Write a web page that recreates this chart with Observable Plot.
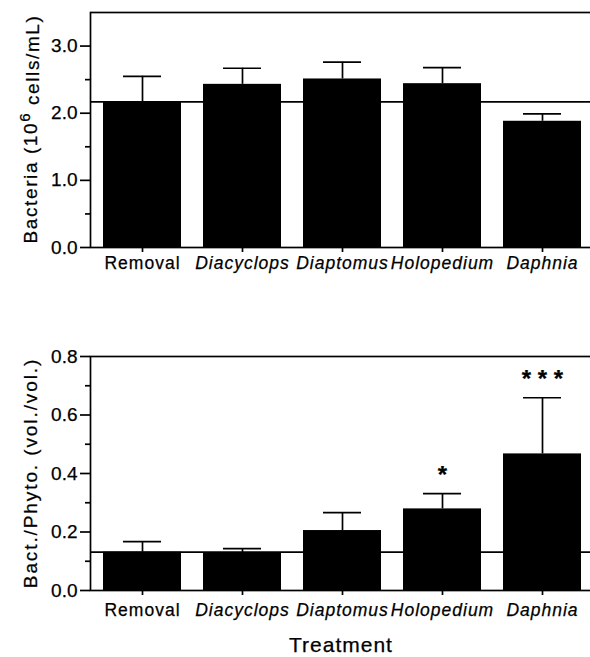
<!DOCTYPE html>
<html>
<head>
<meta charset="utf-8">
<script src="https://cdn.jsdelivr.net/npm/d3@7"></script>
<script src="https://cdn.jsdelivr.net/npm/@observablehq/plot@0.6"></script>
<style>
  html, body { margin: 0; padding: 0; background: #fff; overflow: hidden; }
  #chart { width: 590px; height: 657px; overflow: hidden; }
  #chart svg { display: block; max-width: none !important; }
  #chart text { stroke: black; stroke-width: 0.25px; }
</style>
</head>
<body>
<div id="chart"></div>
<script>
// ---- data ----
const treatments = ["Removal", "Diacyclops", "Diaptomus", "Holopedium", "Daphnia"];
const bacteriaMean = [2.17, 2.43, 2.51, 2.44, 1.88];
const bacteriaSE   = [0.38, 0.24, 0.25, 0.24, 0.11];
const bacteriaRef  = 2.17;
const ratioMean = [0.131, 0.129, 0.205, 0.279, 0.467];
const ratioSE   = [0.036, 0.014, 0.061, 0.052, 0.192];
const ratioRef  = 0.131;
const ratioSig  = ["", "", "", "*", "* * *"];
const bacteriaTicks = [0, 1, 2, 3];
const bacteriaMinor = [0.5, 1.5, 2.5];
const ratioTicks = [0, 0.2, 0.4, 0.6, 0.8];
const ratioMinor = [0.1, 0.3, 0.5, 0.7];

const FONT = "'Liberation Sans', Arial, Helvetica, sans-serif";
const LW = 1.7;

function panel({mean, se, ref, sig, domain, ticks, minor, height, marginTop, marginBottom, tickPad}) {
  const data = treatments.map((t, i) => ({t, mean: mean[i], hi: mean[i] + se[i], sig: sig ? sig[i] : ""}));
  const svg = Plot.plot({
    width: 600,
    height,
    marginLeft: 90,
    marginRight: 6,
    marginTop,
    marginBottom,
    style: {fontFamily: FONT, color: "black", background: "white", overflow: "visible", maxWidth: "none"},
    x: {type: "band", domain: treatments, range: [92, 592], paddingInner: 0.22, paddingOuter: 0.11},
    y: {domain},
    marks: [
      Plot.barY(data, {x: "t", y: "mean", fill: "black"}),
      Plot.ruleX(data, {x: "t", y1: "mean", y2: "hi", stroke: "black", strokeWidth: LW}),
      Plot.tickY(data, {x: "t", y: "hi", stroke: "black", strokeWidth: LW, insetLeft: 20, insetRight: 20}),
      Plot.ruleY([ref], {stroke: "black", strokeWidth: LW}),
      Plot.frame({stroke: "black", strokeWidth: LW}),
      Plot.text(data, {x: "t", y: "hi", text: "sig", dy: -18, fontSize: 24, fontWeight: "bold"}),
      Plot.axisY({ticks, tickFormat: d3.format(".1f"), tickSize: 10, tickPadding: 3, fontSize: 19, label: null, strokeWidth: LW}),
      Plot.axisY({ticks: minor, tickFormat: () => "", tickSize: 5, label: null, strokeWidth: LW}),
      Plot.axisX({tickSize: 5, tickPadding: tickPad, fontSize: 17.5, label: null, strokeWidth: LW})
    ]
  });
  const s = d3.select(svg);
  s.selectAll("g[aria-label='x-axis tick label'] text")
    .attr("font-style", function () { return this.textContent === "Removal" ? "normal" : "italic"; })
    .attr("letter-spacing", "1px");
  return svg;
}

const topPanel = panel({
  mean: bacteriaMean, se: bacteriaSE, ref: bacteriaRef, sig: null,
  domain: [0, 3.5], ticks: bacteriaTicks, minor: bacteriaMinor,
  height: 300, marginTop: 12, marginBottom: 53, tickPad: 4
});
const bottomPanel = panel({
  mean: ratioMean, se: ratioSE, ref: ratioRef, sig: ratioSig,
  domain: [0, 0.8], ticks: ratioTicks, minor: ratioMinor,
  height: 357, marginTop: 56, marginBottom: 67, tickPad: 8
});

// y-axis titles
const tl = d3.select(topPanel).append("text")
  .attr("transform", "translate(37,129) rotate(-90)")
  .attr("text-anchor", "middle")
  .attr("font-family", FONT).attr("font-size", 19).attr("letter-spacing", "1.6px").attr("fill", "black");
tl.append("tspan").text("Bacteria (10");
tl.append("tspan").attr("dy", "-0.45em").attr("font-size", 15).text("6");
tl.append("tspan").attr("dy", "0.45em").text(" cells/mL)");

d3.select(bottomPanel).append("text")
  .attr("transform", "translate(37,173) rotate(-90)")
  .attr("text-anchor", "middle")
  .attr("font-family", FONT).attr("font-size", 19).attr("letter-spacing", "1.9px").attr("fill", "black")
  .text("Bact./Phyto. (vol./vol.)");

d3.select(bottomPanel).append("text")
  .attr("x", 341).attr("y", 352)
  .attr("text-anchor", "middle")
  .attr("font-family", FONT).attr("font-size", 21).attr("letter-spacing", "1px").attr("fill", "black")
  .text("Treatment");

document.getElementById("chart").append(topPanel, bottomPanel);
</script>
</body>
</html>
